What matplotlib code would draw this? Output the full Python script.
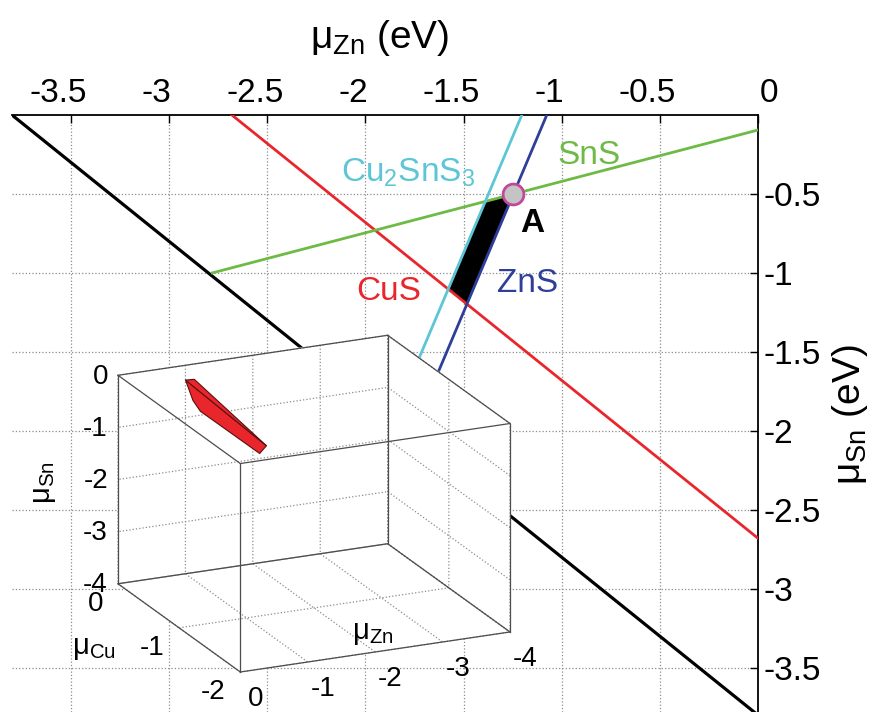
import numpy as np
import matplotlib
matplotlib.use("Agg")
import matplotlib.pyplot as plt
from mpl_toolkits.mplot3d import proj3d
from mpl_toolkits.mplot3d.art3d import Poly3DCollection
from itertools import product

plt.rcParams['font.family'] = ['Liberation Sans', 'DejaVu Sans']
plt.rcParams['mathtext.fontset'] = 'custom'
plt.rcParams['mathtext.rm'] = 'Liberation Sans'
plt.rcParams['mathtext.it'] = 'Liberation Sans:italic'
plt.rcParams['grid.linestyle'] = ':'
plt.rcParams['grid.color'] = '0.55'
plt.rcParams['grid.linewidth'] = 0.9

# --- data: boundary lines in (mu_Zn, mu_Sn) ---
zn_czts = [-3.8, 0.0];    sn_czts = [0.0, -3.8]      # black
zn_cus = [-2.68, 0.0];    sn_cus = [0.0, -2.68]      # CuS
zn_sns = [-2.78, 0.0];    sn_sns = [-1.0, -0.095]    # SnS
zn_cts = [-1.203, -1.726]; sn_cts = [0.0, -1.538]    # Cu2SnS3
zn_zns = [-1.076, -1.635]; sn_zns = [0.0, -1.646]    # ZnS

x_ticks = [-3.5, -3, -2.5, -2, -1.5, -1, -0.5, 0]
x_labels = ['-3.5', '-3', '-2.5', '-2', '-1.5', '-1', '-0.5', '0']
y_ticks = [-0.5, -1, -1.5, -2, -2.5, -3, -3.5]
y_labels = ['-0.5', '-1', '-1.5', '-2', '-2.5', '-3', '-3.5']

# inset: 3D stability region (mu_Cu, mu_Zn, mu_Sn)
cu_lim = [-2, 0]; zn_lim = [-4, 0]; sn_lim = [-4, 0]
cu_ticks = [0, -1, -2]
zn_ticks = [0, -1, -2, -3, -4]
sn_ticks = [0, -1, -2, -3, -4]
reg_cu = [-0.2, -0.2, -0.2, -0.2, -0.2, -0.2]
reg_zn = [-0.82, -0.95, -2.02, -1.92, -1.04, -0.93]
reg_sn = [-0.08, -0.09, -1.57, -1.70, -0.72, -0.49]

c_red = '#e8262b'
c_green = '#6dbb45'
c_cyan = '#5cc6d6'
c_blue = '#2f3f99'

W, H = 877, 712
fig = plt.figure(figsize=(W / 100, H / 100), dpi=100)
ax = fig.add_axes([12 / W, 0.0, 746 / W, 597 / H])


def intersect(xa, ya, xb, yb):
    ma = (ya[1] - ya[0]) / (xa[1] - xa[0])
    mb = (yb[1] - yb[0]) / (xb[1] - xb[0])
    x = (yb[0] - ya[0] + ma * xa[0] - mb * xb[0]) / (ma - mb)
    return x, ya[0] + ma * (x - xa[0])


corners = [intersect(zn_cts, sn_cts, zn_sns, sn_sns),
           intersect(zn_sns, sn_sns, zn_zns, sn_zns),
           intersect(zn_zns, sn_zns, zn_cus, sn_cus),
           intersect(zn_cus, sn_cus, zn_cts, sn_cts)]
ax.fill([c[0] for c in corners], [c[1] for c in corners], color='k', zorder=2)

ax.plot(zn_czts, sn_czts, color='k', lw=2.3, zorder=3)
ax.plot(zn_cus, sn_cus, color=c_red, lw=2, zorder=3)
ax.plot(zn_sns, sn_sns, color=c_green, lw=2, zorder=3)
ax.plot(zn_cts, sn_cts, color=c_cyan, lw=2, zorder=3)
ax.plot(zn_zns, sn_zns, color=c_blue, lw=2, zorder=3)
ax.plot(*corners[1], 'o', ms=15, mfc='#c4c4c4', mec='#c2489b', mew=2, zorder=4)

ax.text(-1.78, -0.42, r'Cu$_\mathrm{2}$SnS$_\mathrm{3}$', color=c_cyan, fontsize=24, ha='center', va='baseline')
ax.text(-0.86, -0.31, 'SnS', color=c_green, fontsize=24, ha='center', va='baseline')
ax.text(-1.15, -0.74, 'A', color='k', fontsize=24, fontweight='bold', ha='center', va='baseline')
ax.text(-1.175, -1.12, 'ZnS', color=c_blue, fontsize=24, ha='center', va='baseline')
ax.text(-1.88, -1.17, 'CuS', color=c_red, fontsize=24, ha='center', va='baseline')

ax.set_xlim(-3.8, 0)
ax.set_ylim(-3.78, 0)
ax.xaxis.tick_top()
ax.yaxis.tick_right()
ax.set_xticks(x_ticks)
ax.set_yticks(y_ticks, labels=y_labels)
ax.tick_params(direction='in', length=6, width=1, labelsize=24, pad=4)
ax.tick_params(axis='x', labeltop=False, labelbottom=False)
# top labels sit a little off their ticks in the original
for t, lab in zip(x_ticks, x_labels):
    dx = 8 if t == 0 else -9
    ax.annotate(lab, xy=(t, 1), xycoords=('data', 'axes fraction'), xytext=(dx, 4),
                textcoords='offset points', ha='center', va='bottom', fontsize=24,
                annotation_clip=False)
ax.grid(True)
ax.set_axisbelow(True)
for s in ['left', 'bottom']:
    ax.spines[s].set_visible(False)
for s in ['top', 'right']:
    ax.spines[s].set_linewidth(1.3)

fig.text(380 / W, 1 - 38 / H, r'$\mathrm{μ_{Zn}}$ (eV)', fontsize=28, ha='center', va='center')
fig.text(850 / W, 1 - 415 / H, r'$\mathrm{μ_{Sn}}$ (eV)', fontsize=28, ha='center', va='center', rotation=90)

# --- 3D inset ---
side = 400
ax3 = fig.add_axes([100 / W, 20 / H, side / W, side / H], projection='3d')
ax3.set_proj_type('ortho')
ax3.view_init(elev=19.1, azim=155.6)
ax3.set_box_aspect((1, 1, 0.745))
ax3.set_xlim(cu_lim); ax3.set_ylim(zn_lim); ax3.set_zlim(sn_lim)
ax3.set_xticks(cu_ticks); ax3.set_yticks(zn_ticks); ax3.set_zticks(sn_ticks)
ax3.patch.set_alpha(0)
for ttl in [ax3.title, ax3._left_title, ax3._right_title]:
    ttl.set_visible(False)
for a in [ax3.xaxis, ax3.yaxis, ax3.zaxis]:
    a.set_pane_color((1, 1, 1, 1))
    a.pane.set_edgecolor((1, 1, 1, 0))
    a.line.set_color((1, 1, 1, 0))
    a.set_tick_params(label1On=False, label2On=False)
    a.label.set_visible(False)
    a.offsetText.set_visible(False)
    a._axinfo['tick']['inward_factor'] = 0
    a._axinfo['tick']['outward_factor'] = 0
    a._axinfo['grid'].update({'color': (0.55, 0.55, 0.55, 1), 'linestyle': ':', 'linewidth': 0.9})

# box edges from the limits
pts = list(product(cu_lim, zn_lim, sn_lim))
for p, q in product(pts, pts):
    if p < q and sum(a != b for a, b in zip(p, q)) == 1:
        ax3.plot(*zip(p, q), color='0.3', lw=0.9)

v = list(zip(reg_cu, reg_zn, reg_sn))
poly = Poly3DCollection([[v[0], v[1], v[2]], [v[0], v[2], v[3], v[4], v[5]]],
                        facecolor=c_red, edgecolor='#5a1010', linewidths=0.8)
ax3.add_collection3d(poly)

for t in sn_ticks:
    ax3.text(0, 0.15, t, str(t), fontsize=20, ha='right', va='center')
for t in cu_ticks:
    ax3.text(t, 0.22, -4.35, str(t), fontsize=20, ha='right', va='center')
for t in zn_ticks:
    ax3.text(-2.25, t, -4.3, str(t), fontsize=20, ha='center', va='center')

fig.text(44 / W, 1 - 483 / H, r'$\mathrm{μ_{Sn}}$', fontsize=21, ha='center', va='center', rotation=90)
fig.text(94 / W, 1 - 648 / H, r'$\mathrm{μ_{Cu}}$', fontsize=21, ha='center', va='center')
fig.text(373 / W, 1 - 633 / H, r'$\mathrm{μ_{Zn}}$', fontsize=21, ha='center', va='center')

# fit the projected box onto the target region of the picture
fig.canvas.draw()
bx, by, bz = zip(*pts)
px, py, _ = proj3d.proj_transform(np.array(bx, float), np.array(by, float), np.array(bz, float), ax3.get_proj())
pix = ax3.transData.transform(np.column_stack([px, py]))
pos = ax3.get_position()
L, B = pos.x0 * W, pos.y0 * H
s = (510 - 118) / (pix[:, 0].max() - pix[:, 0].min())
dx, dy = pix[:, 0].min() - L, pix[:, 1].min() - B
L2, B2 = 118 - dx * s, (H - 672) - dy * s
ax3.set_position([L2 / W, B2 / H, side * s / W, side * s / H])

fig.savefig('out.png', dpi=100)
